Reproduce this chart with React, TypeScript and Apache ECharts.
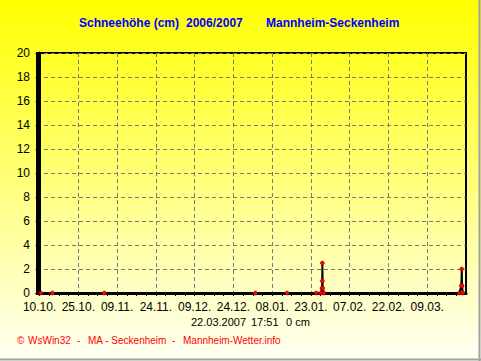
import React, { useEffect, useRef } from "react";
import * as echarts from "echarts";

// ---- data ----
const axisStart = "09.10.2006 00:00";
const axisEnd = "24.03.2007 00:00";
const tickLabels = ["10.10.", "25.10.", "09.11.", "24.11.", "09.12.", "24.12.", "08.01.", "23.01.", "07.02.", "22.02.", "09.03."];
const measureTimes = [
  "10.10.2006 12:00", "15.10.2006 00:00", "04.11.2006 00:00", "01.01.2007 12:00",
  "13.01.2007 18:00", "25.01.2007 00:00", "26.01.2007 20:00", "27.01.2007 07:00",
  "27.01.2007 09:00", "27.01.2007 10:00", "27.01.2007 13:00", "28.01.2007 00:00",
  "21.03.2007 10:00", "22.03.2007 05:00", "22.03.2007 08:30", "22.03.2007 12:00",
  "22.03.2007 17:51",
];
const snowCm = [0, 0, 0, 0, 0, 0, 0, 0.4, 1.0, 2.5, 0.4, 0, 0, 0.6, 2.0, 0.6, 0];
const yTicks = [0, 2, 4, 6, 8, 10, 12, 14, 16, 18, 20];

const BASE = Date.UTC(2006, 9, 10);
function dayOf(s: string): number {
  const [d, t] = s.split(" ");
  const [dd, mm, yy] = d.split(".").map(Number);
  const [h, mi] = (t || "00:00").split(":").map(Number);
  return (Date.UTC(yy, mm - 1, dd, h, mi) - BASE) / 864e5;
}
function labelDay(l: string): number {
  const [dd, mm] = l.split(".").map(Number);
  const yy = mm >= 7 ? 2006 : 2007;
  return (Date.UTC(yy, mm - 1, dd) - BASE) / 864e5;
}

export default function App() {
  const ref = useRef<HTMLDivElement>(null);
  useEffect(() => {
    if (!ref.current) return;
    const chart = echarts.init(ref.current, null, { renderer: "svg" });
    const xmin = dayOf(axisStart);
    const xmax = dayOf(axisEnd);
    const labelDays = tickLabels.map(labelDay);
    const step = (labelDays[1] - labelDays[0]) / 4;
    const minorDays: number[] = [];
    labelDays.forEach((d) => {
      for (let k = 0; k < 4; k++) {
        const v = d + k * step;
        if (v >= xmin && v <= xmax) minorDays.push(v);
      }
    });
    const data = measureTimes.map((t, i) => [dayOf(t), snowCm[i]]);
    const font = "Liberation Sans";
    chart.setOption({
      animation: false,
      backgroundColor: new echarts.graphic.LinearGradient(0, 0, 0, 1, [
        { offset: 0, color: "#FFFF00" },
        { offset: 1, color: "#FFFFF4" },
      ]),
      grid: {
        left: 37,
        right: 15,
        top: 53,
        bottom: 68,
        show: true,
        borderColor: "#000",
        borderWidth: 2,
        backgroundColor: "transparent",
      },
      xAxis: [
        {
          type: "value",
          min: xmin,
          max: xmax,
          axisLine: { show: true, onZero: false, lineStyle: { color: "#000", width: 3 } },
          axisTick: { show: true, customValues: labelDays, length: 3, lineStyle: { color: "#000" } },
          axisLabel: {
            customValues: labelDays,
            margin: 8,
            color: "#000",
            fontFamily: font,
            fontSize: 12,
            formatter: (v: number) => {
              const i = labelDays.findIndex((d) => Math.abs(d - v) < 0.01);
              return i >= 0 ? tickLabels[i] : "";
            },
          },
          splitLine: { show: true, lineStyle: { color: "#7A7A7A", type: [4, 3], width: 1 } },
        },
        {
          type: "value",
          min: xmin,
          max: xmax,
          position: "bottom",
          axisLine: { show: false },
          axisTick: { show: true, customValues: minorDays, length: 3, lineStyle: { color: "#000" } },
          axisLabel: { show: false },
          splitLine: { show: false },
        },
      ],
      yAxis: {
        type: "value",
        min: 0,
        max: 20,
        interval: 2,
        axisLine: { show: true, lineStyle: { color: "#000", width: 3 } },
        axisTick: { show: true, length: 4, lineStyle: { color: "#000" } },
        axisLabel: {
          margin: 7,
          color: "#000",
          fontFamily: font,
          fontSize: 12,
          formatter: (v: number) => (yTicks.includes(v) ? String(v) : ""),
        },
        splitLine: { show: true, lineStyle: { color: "#7A7A7A", type: [4, 3], width: 1 } },
      },
      series: [
        {
          type: "line",
          xAxisIndex: 0,
          data,
          lineStyle: { color: "#000", width: 2 },
          symbol: "circle",
          symbolSize: 4,
          showAllSymbol: true,
          itemStyle: { color: "#FF0000", borderColor: "#800000", borderWidth: 0.5 },
          z: 5,
        },
      ],
      graphic: [
        { type: "text", left: 79, top: 17, style: { text: "Schneehöhe (cm)", fill: "#0000FF", font: `bold 12px "${font}"` } },
        { type: "text", left: 186, top: 17, style: { text: "2006/2007", fill: "#0000FF", font: `bold 12px "${font}"` } },
        { type: "text", left: 266, top: 17, style: { text: "Mannheim-Seckenheim", fill: "#0000FF", font: `bold 12px "${font}"` } },
        { type: "text", left: 191, top: 316, style: { text: "22.03.2007", fill: "#000", font: `11px "${font}"` } },
        { type: "text", left: 251, top: 316, style: { text: "17:51", fill: "#000", font: `11px "${font}"` } },
        { type: "text", left: 286, top: 316, style: { text: "0 cm", fill: "#000", font: `11px "${font}"` } },
        { type: "text", left: 17, top: 335, style: { text: "©", fill: "#FF0000", font: `10px "${font}"` } },
        { type: "text", left: 28, top: 335, style: { text: "WsWin32", fill: "#FF0000", font: `10px "${font}"` } },
        { type: "text", left: 77, top: 335, style: { text: "-", fill: "#FF0000", font: `10px "${font}"` } },
        { type: "text", left: 88, top: 335, style: { text: "MA - Seckenheim", fill: "#FF0000", font: `10px "${font}"` } },
        { type: "text", left: 172, top: 335, style: { text: "-", fill: "#FF0000", font: `10px "${font}"` } },
        { type: "text", left: 183, top: 335, style: { text: "Mannheim-Wetter.info", fill: "#FF0000", font: `10px "${font}"` } },
        { type: "line", shape: { x1: 479.5, y1: 0, x2: 479.5, y2: 361 }, style: { stroke: "#A0A0A0", lineWidth: 2 } },
        { type: "line", shape: { x1: 0, y1: 359.5, x2: 481, y2: 359.5 }, style: { stroke: "#A0A0A0", lineWidth: 2 } },
      ],
    });
    return () => chart.dispose();
  }, []);
  return <div ref={ref} style={{ position: "fixed", left: 0, top: 0, width: 481, height: 361 }} />;
}
